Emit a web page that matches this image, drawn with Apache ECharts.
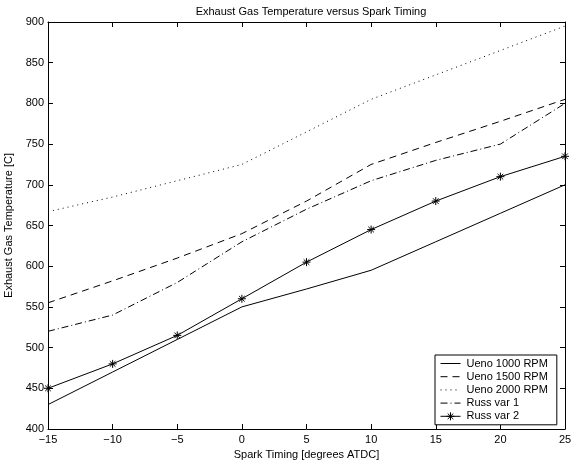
<!DOCTYPE html>
<html>
<head>
<meta charset="utf-8" />
<title>Exhaust Gas Temperature</title>
<style>body{margin:0;background:#fff}</style>
</head>
<body>
<div id="main" style="width:580px;height:464px;"></div>
<script src="https://cdn.jsdelivr.net/npm/echarts@6/dist/echarts.min.js"></script>
<script>
const spark = [-15, -10, -5, 0, 5, 10, 15, 20, 25];
const ueno1000 = [430, 470, 510, 550, 572, 595, 630, 665, 700];
const ueno1500 = [555, 582, 610, 640, 680, 725, 752, 778, 805];
const ueno2000 = [667, 685, 705, 725, 765, 805, 835, 865, 895];
const russ1 = [520, 540, 580, 630, 670, 705, 730, 750, 800];
const russ2 = [450, 480, 515, 560, 605, 645, 680, 710, 735];
const names = ['Ueno 1000 RPM', 'Ueno 1500 RPM', 'Ueno 2000 RPM', 'Russ var 1', 'Russ var 2'];

const pair = (ys) => spark.map((x, i) => [x, ys[i]]);
const font = 'Liberation Sans, Arial, sans-serif';
const star = 'path://M0,5L10,5M5,0L5,10M1.5,1.5L8.5,8.5M8.5,1.5L1.5,8.5';
// legend icon: short line with the asterisk in the middle
const starLine = 'path://M0,5L20,5M6,5L14,5M10,1L10,9M7.2,2.2L12.8,7.8M12.8,2.2L7.2,7.8';

function line(name, ys, type, extra) {
	return Object.assign({
		name: name,
		type: 'line',
		data: pair(ys),
		showSymbol: false,
		symbol: 'none',
		animation: false,
		lineStyle: { color: '#000', width: 1, type: type },
		itemStyle: { color: '#000' }
	}, extra || {});
}

const tickStyle = { show: true, inside: true, length: 5, lineStyle: { color: '#000' } };
const axisLine = { show: true, onZero: false, lineStyle: { color: '#000', width: 1 } };

const chart = echarts.init(document.getElementById('main'));
chart.setOption({
	backgroundColor: '#fff',
	textStyle: { fontFamily: font },
	title: {
		text: 'Exhaust Gas Temperature versus Spark Timing',
		left: 306, textAlign: 'center', top: 1,
		textStyle: { fontSize: 11, fontWeight: 'normal', color: '#000', fontFamily: font }
	},
	grid: { left: 48, right: 15, top: 22, bottom: 35, containLabel: false, outerBoundsMode: 'none' },
	legend: {
		orient: 'vertical',
		left: 435, top: 355,
		padding: [3, 9, 3, 5],
		itemGap: 2.2,
		itemWidth: 20, itemHeight: 10,
		backgroundColor: '#fff',
		borderColor: '#000', borderWidth: 1, borderRadius: 0,
		textStyle: { fontSize: 11, lineHeight: 11, color: '#000', fontFamily: font, padding: [0, 0, 0, 1] },
		lineStyle: { width: 1 },
		data: names.map((n, i) => i < 4
			? { name: n, itemStyle: { opacity: 0 } }
			: { name: n, icon: starLine, itemStyle: { color: '#000', borderColor: '#000', borderWidth: 1 } })
	},
	xAxis: [{
		type: 'value', min: -15, max: 25, interval: 5,
		name: 'Spark Timing [degrees ATDC]', nameLocation: 'middle', nameGap: 20,
		nameTextStyle: { fontSize: 11, color: '#000' },
		axisLine: axisLine, axisTick: tickStyle, splitLine: { show: false },
		axisLabel: { fontSize: 11, color: '#000', margin: 5,
			formatter: (v) => (v < 0 ? '\u2212' + (-v) : '' + v) }
	}, {
		type: 'value', min: -15, max: 25, interval: 5, position: 'top',
		axisLine: axisLine, axisTick: tickStyle, axisLabel: { show: false }, splitLine: { show: false }
	}],
	yAxis: [{
		type: 'value', min: 400, max: 900, interval: 50,
		name: 'Exhaust Gas Temperature [C]', nameLocation: 'middle', nameGap: 33,
		nameTextStyle: { fontSize: 11, color: '#000' },
		axisLine: axisLine, axisTick: tickStyle, splitLine: { show: false },
		axisLabel: { fontSize: 11, color: '#000', margin: 4 }
	}, {
		type: 'value', min: 400, max: 900, interval: 50, position: 'right',
		axisLine: axisLine, axisTick: tickStyle, axisLabel: { show: false }, splitLine: { show: false }
	}],
	series: [
		line(names[0], ueno1000, 'solid'),
		line(names[1], ueno1500, [7, 5]),
		line(names[2], ueno2000, [1, 4]),
		line(names[3], russ1, [7, 3, 1, 3]),
		line(names[4], russ2, 'solid', {
			showSymbol: true, symbol: star, symbolSize: 8,
			itemStyle: { color: '#000', borderColor: '#000', borderWidth: 1 }
		})
	]
});
</script>
</body>
</html>
